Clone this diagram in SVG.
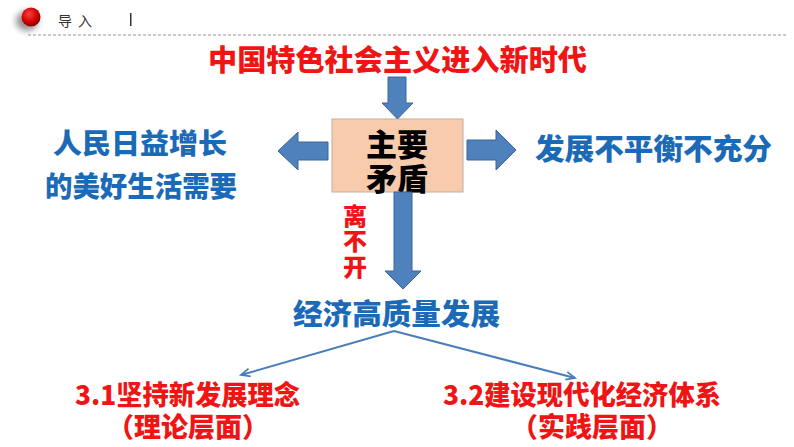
<svg xmlns="http://www.w3.org/2000/svg" width="794" height="447" viewBox="0 0 794 447">
<defs>
<style>
.cjk{font-family:"Noto Sans CJK SC","Noto Sans",sans-serif;font-weight:900;text-anchor:middle;dominant-baseline:central}
.red{fill:#F01414}
.blue{fill:#1A6AB8}
.arrow{fill:#4F81BD;stroke:#3A6496;stroke-width:1}
.conn{fill:none;stroke:#4A7EBB;stroke-width:2}
</style>
<radialGradient id="ball" cx="0.4" cy="0.35" r="0.7">
<stop offset="0" stop-color="#FF4040"/>
<stop offset="0.6" stop-color="#D00000"/>
<stop offset="1" stop-color="#7A0000"/>
</radialGradient>
<filter id="blur" x="-50%" y="-50%" width="200%" height="200%"><feGaussianBlur stdDeviation="3"/></filter>
<marker id="ah" markerWidth="12" markerHeight="10" refX="10" refY="5" orient="auto" markerUnits="userSpaceOnUse">
<path d="M1,1 L10,5 L1,9" fill="none" stroke="#4A7EBB" stroke-width="1.8"/>
</marker>
</defs>
<rect width="794" height="447" fill="#FFFFFF"/>
<g id="header">
<ellipse cx="27" cy="21" rx="11" ry="10" fill="#777" filter="url(#blur)" opacity="0.8"/>
<circle cx="31" cy="17" r="9.5" fill="url(#ball)"/>
<text x="78" y="20" class="cjk" style="font-weight:400;font-size:14px;letter-spacing:6px" fill="#333">导入</text>
<rect x="130" y="13" width="1.5" height="13" fill="#333"/>
<line x1="28" y1="35" x2="787" y2="35" stroke="#A09090" stroke-width="1" stroke-dasharray="3 2"/>
</g>
<g id="title">
<text x="397.5" y="58" class="cjk red" font-size="29" textLength="379" lengthAdjust="spacingAndGlyphs">中国特色社会主义进入新时代</text>
</g>
<g id="main">
<rect x="332" y="119" width="131" height="73" fill="#F8CBAD" stroke="#BFB0A0" stroke-width="1"/>
<text class="cjk" font-size="31" fill="#000"><tspan x="397" y="142">主要</tspan><tspan x="397" y="176">矛盾</tspan></text>
</g>
<g id="need">
<text class="cjk blue" font-size="28"><tspan x="140" y="142" textLength="174" lengthAdjust="spacingAndGlyphs">人民日益增长</tspan><tspan x="141" y="185" textLength="192" lengthAdjust="spacingAndGlyphs">的美好生活需要</tspan></text>
</g>
<g id="imbalance">
<text x="653.5" y="147" class="cjk blue" font-size="29" textLength="237" lengthAdjust="spacingAndGlyphs">发展不平衡不充分</text>
</g>
<g id="label">
<text x="355" y="242" class="cjk red" font-size="24" style="writing-mode:vertical-rl;letter-spacing:1.5px">离不开</text>
</g>
<g id="quality">
<text x="396.5" y="312" class="cjk blue" font-size="29" textLength="207" lengthAdjust="spacingAndGlyphs">经济高质量发展</text>
</g>
<g id="concept">
<text class="cjk red" font-size="27"><tspan x="187.5" y="393" textLength="225" lengthAdjust="spacingAndGlyphs">3.1坚持新发展理念</tspan><tspan x="188" y="425">（理论层面）</tspan></text>
</g>
<g id="system">
<text class="cjk red" font-size="27"><tspan x="582" y="393" textLength="278" lengthAdjust="spacingAndGlyphs">3.2建设现代化经济体系</tspan><tspan x="592" y="425">（实践层面）</tspan></text>
</g>
<g id="connectors">
<path class="arrow" d="M388,77 L406,77 L406,103 L413,103 L397.5,119 L382,103 L388,103 Z"/>
<path class="arrow" d="M328,142 L328,160 L298,160 L298,170 L278,151 L298,132 L298,142 Z"/>
<path class="arrow" d="M467,140 L496,140 L496,130 L516,150 L496,170 L496,160 L467,160 Z"/>
<path class="arrow" d="M394,192 L412,192 L412,271 L421,271 L403,289 L385,271 L394,271 Z"/>
<path class="conn" d="M394,331 L241,375" marker-end="url(#ah)"/>
<path class="conn" d="M394,331 L575,378" marker-end="url(#ah)"/>
</g>
</svg>
